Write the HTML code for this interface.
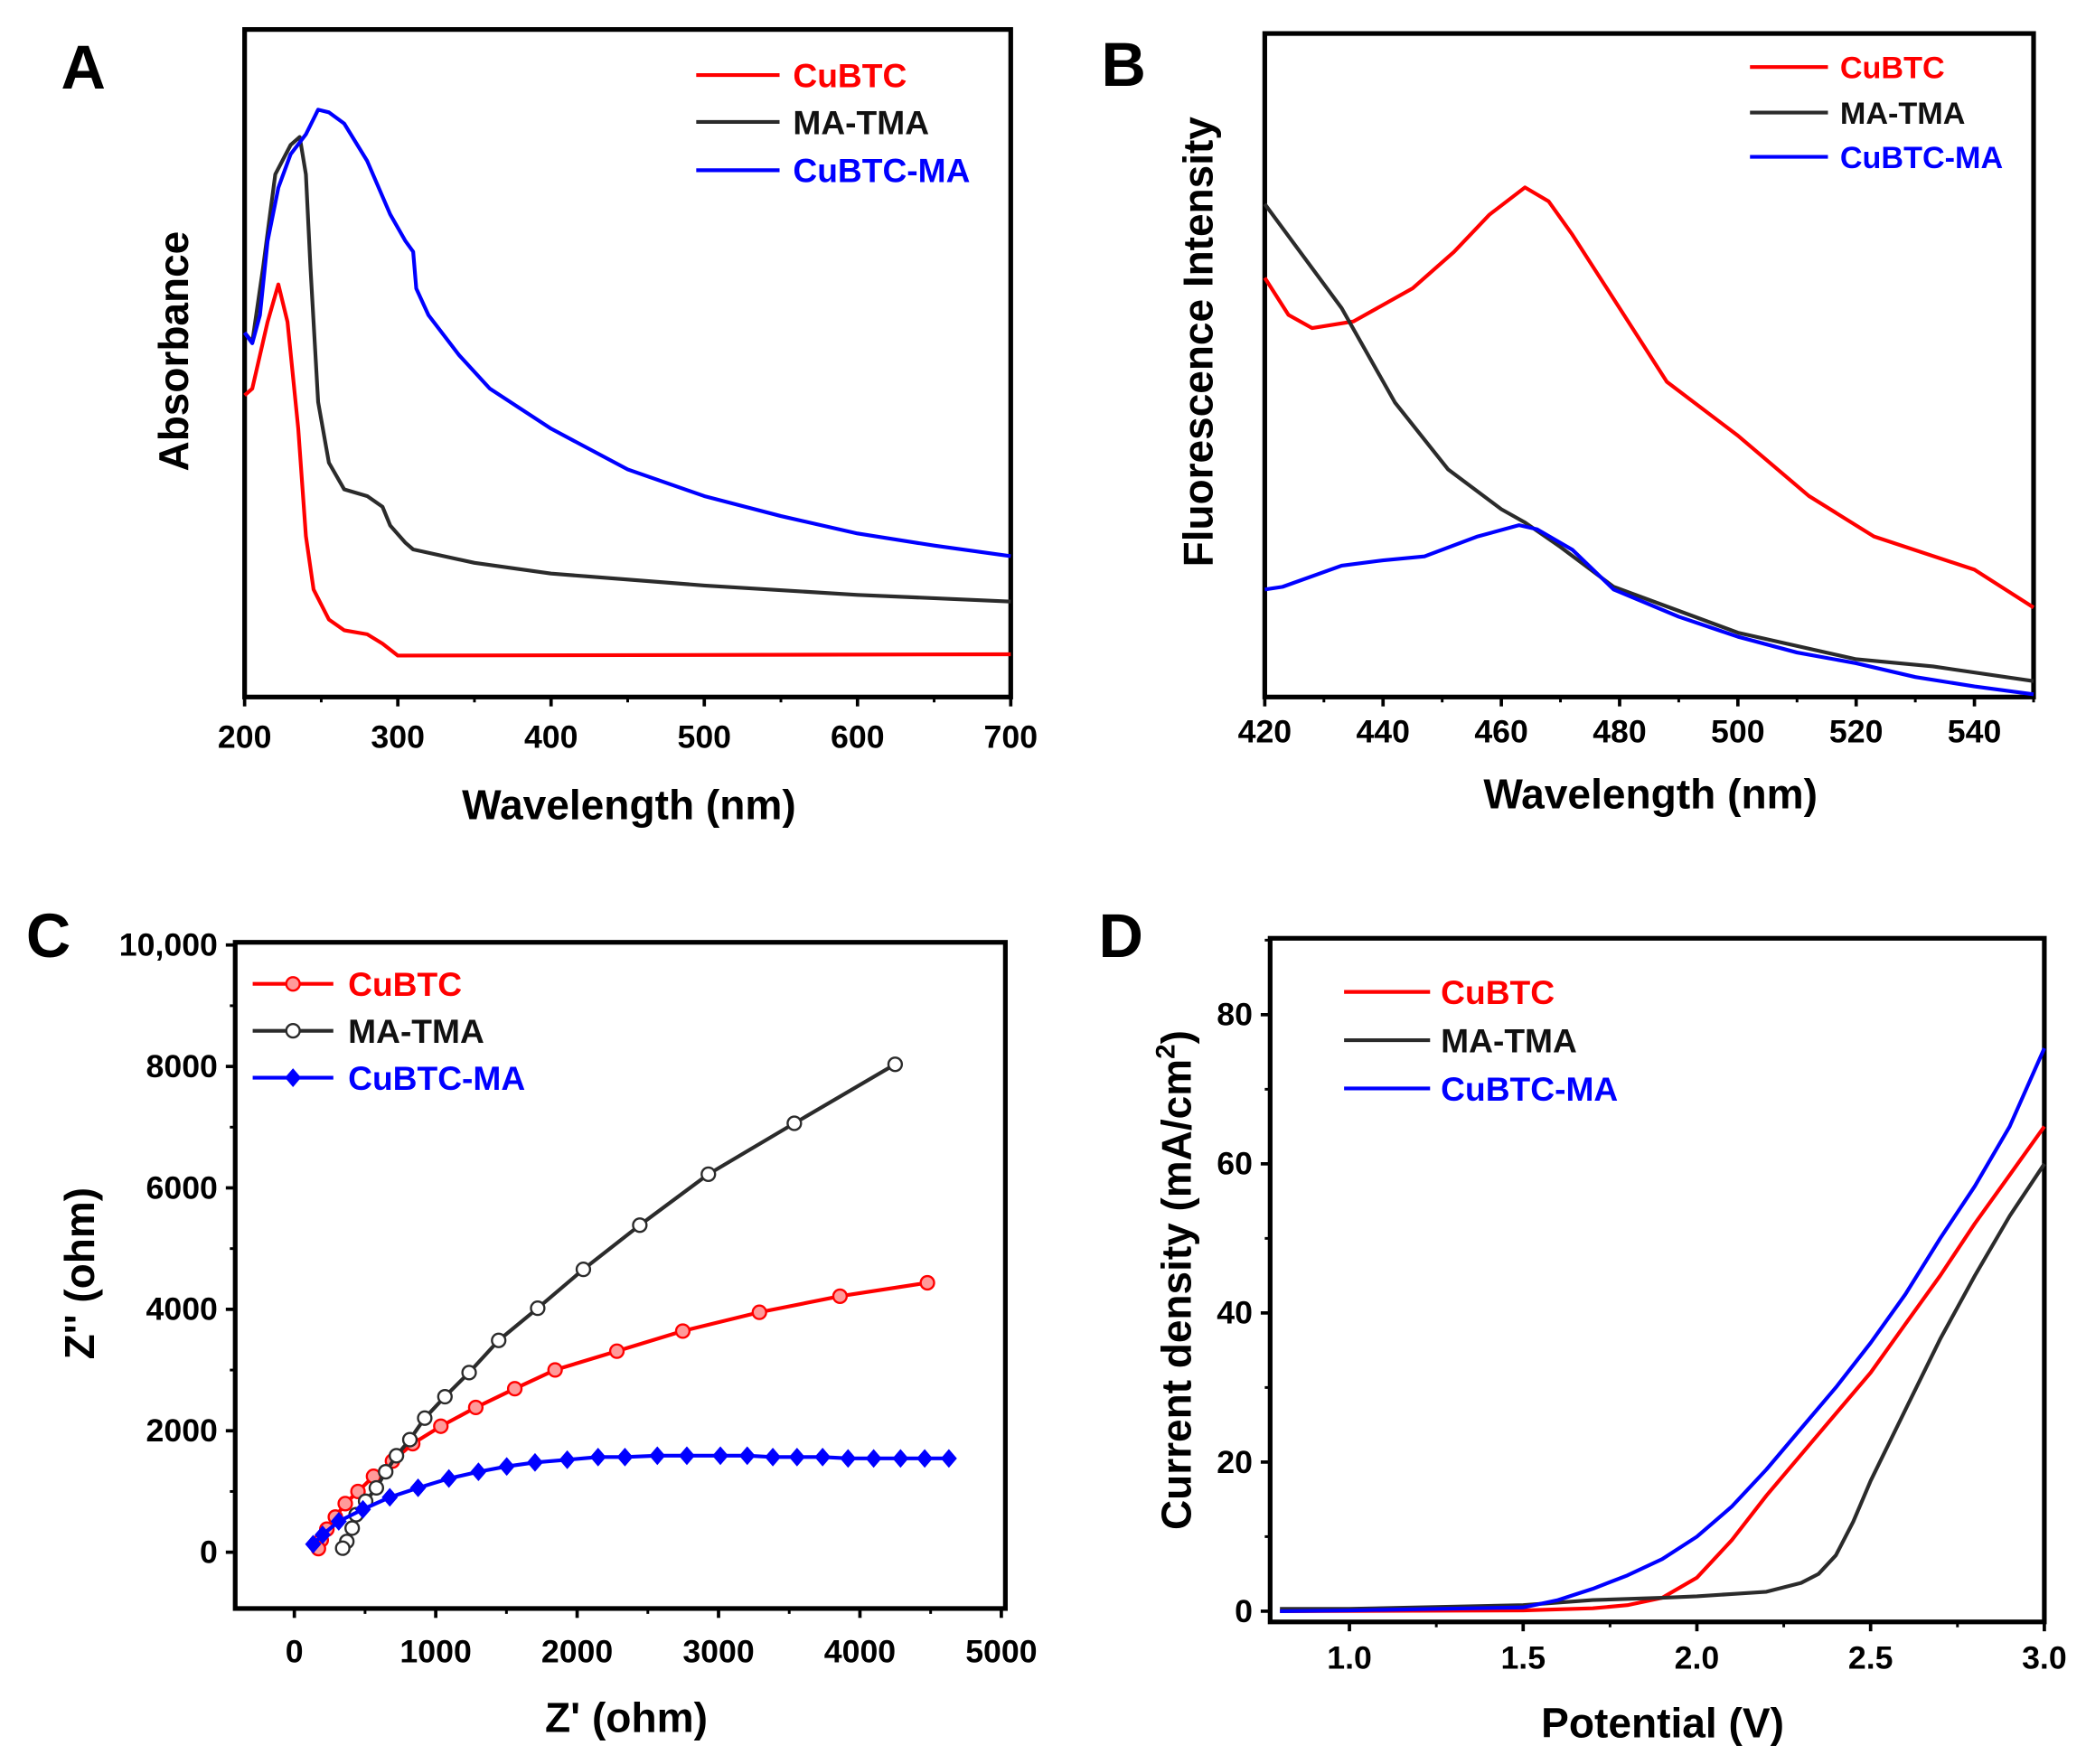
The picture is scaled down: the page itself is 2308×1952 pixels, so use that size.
<!DOCTYPE html>
<html><head><meta charset="utf-8"><style>
html,body{margin:0;padding:0;background:#fff;}
svg{display:block;font-family:"Liberation Sans",Arial,sans-serif;font-weight:bold;}
</style></head><body>
<svg id="fig" width="2308" height="1952" viewBox="0 0 1552 1316" preserveAspectRatio="none" xmlns="http://www.w3.org/2000/svg"></svg>
<script>
// ---- Panel A data (absorbance, a.u.) ----
const aRedX=[200,205,215,222,228,235,240,245,255,265,280,290,300,700];
const aRedY=[45.2,46.2,56.2,61.8,56.2,40.2,24.1,16.1,11.6,10.0,9.4,8.0,6.2,6.4];
const aBlkX=[200,205,212,220,230,236,240,243,248,255,265,280,290,295,305,310,350,400,500,600,700];
const aBlkY=[54.6,53.2,64.3,78.3,82.7,83.9,78.3,64.3,44.2,35.1,31.1,30.1,28.5,25.7,23.1,22.1,20.1,18.5,16.7,15.3,14.3];
const aBluX=[200,205,210,215,222,230,240,248,255,265,280,295,305,310,312,320,340,360,400,450,500,550,600,650,700];
const aBluY=[54.6,53.0,57.2,68.3,76.3,81.3,84.3,88.0,87.6,85.9,80.3,72.3,68.3,66.7,61.2,57.2,51.2,46.2,40.2,34.1,30.1,27.1,24.5,22.7,21.1];
const aTicks=[200,300,400,500,600,700];
// ---- Panel B data ----
const bRedX=[420,424,428,435,445,452,458,464,468,472,480,488,500,512,523,540,550];
const bRedY=[63.2,57.6,55.6,56.6,61.6,67.1,72.7,76.8,74.7,69.7,58.6,47.5,39.4,30.3,24.2,19.2,13.5];
const bBlkX=[420,433,442,451,460,464,470,479,500,520,533,550];
const bBlkY=[74.3,58.6,44.4,34.3,28.3,26.3,22.6,16.6,9.7,5.7,4.6,2.4];
const bBluX=[420,423,433,440,447,456,463,466,472,479,490,500,510,520,530,540,550];
const bBluY=[16.2,16.6,19.8,20.6,21.2,24.2,25.9,25.3,22.2,16.2,12.1,9.1,6.7,5.1,3.0,1.6,0.4];
const bTicks=[420,440,460,480,500,520,540];
// ---- Panel C data ----
const cRedX=[4477,3859,3289,2747,2281,1844,1559,1283,1036,837,694,560,450,360,290,230,190,170];
const cRedY=[4437,4216,3951,3642,3311,3002,2693,2384,2075,1788,1501,1250,1000,800,580,380,200,60];
const cBlkX=[4249,3536,2928,2443,2044,1721,1445,1236,1065,922,817,722,646,580,504,437,409,371,342];
const cBlkY=[8035,7064,6225,5386,4658,4018,3488,2958,2561,2208,1854,1589,1325,1060,839,618,397,177,66];
const cBluX=[4629,4458,4287,4097,3916,3736,3555,3384,3203,3013,2776,2567,2338,2148,1930,1702,1502,1302,1093,875,675,485,314,200,133];
const cBluY=[1545,1545,1545,1545,1545,1567,1567,1567,1589,1589,1589,1589,1567,1567,1523,1479,1413,1325,1214,1060,905,706,508,287,132];
const cXTicks=[0,1000,2000,3000,4000,5000];
const cYTicks=[0,2000,4000,6000,8000,10000];
const cYLabels=["0","2000","4000","6000","8000","10,000"];
// ---- Panel D data ----
const dRedX=[0.8,1.5,1.7,1.8,1.9,2.0,2.1,2.2,2.3,2.4,2.5,2.6,2.7,2.8,2.9,3.0];
const dRedY=[0,0.1,0.4,0.8,1.8,4.5,9.5,15.5,21,26.5,32,38.5,45,52,58.5,65];
const dBlkX=[0.8,1.0,1.5,1.7,1.9,2.0,2.1,2.2,2.3,2.35,2.4,2.45,2.5,2.6,2.7,2.8,2.9,3.0];
const dBlkY=[0.3,0.3,0.8,1.5,1.8,2.0,2.3,2.6,3.8,5,7.5,12,17.5,27,36.5,45,53,60];
const dBluX=[0.8,1.0,1.5,1.6,1.7,1.8,1.9,2.0,2.1,2.2,2.3,2.4,2.5,2.6,2.7,2.8,2.9,3.0];
const dBluY=[0,0.1,0.5,1.5,3,4.8,7,10,14,19,24.5,30,36,42.5,50,57,65,75.5];
const dXTicks=[1.0,1.5,2.0,2.5,3.0];
const dYTicks=[0,20,40,60,80];

const NS="http://www.w3.org/2000/svg";
const svg=document.getElementById('fig');
function mk(tag,attrs,parent,txt){const e=document.createElementNS(NS,tag);for(const k in attrs)e.setAttribute(k,attrs[k]);if(txt!==undefined)e.textContent=txt;(parent||svg).appendChild(e);return e;}
function lin(d0,d1,r0,r1){return v=>r0+(v-d0)*(r1-r0)/(d1-d0);}
const RED="#ff0000",BLK="#2b2b2b",BLU="#0000ff";
const TFS=24;

function panel(name,box){
  const g=mk('g',{});
  
  
  const r=mk('rect',{x:box[0],y:box[1],width:box[2]-box[0],height:box[3]-box[1],fill:'none',stroke:'#000','stroke-width':3.5},g);
  
  
  return g;
}
function series(g,name,X,Y,xs,ys,color){
  const p=mk('path',{d:X.map((x,i)=>(i?'L':'M')+xs(x).toFixed(1)+','+ys(Y[i]).toFixed(1)).join(''),fill:'none',stroke:color,'stroke-width':2.8,'stroke-linejoin':'round'},g);
  
  
  return p;
}
function xTicks(g,ticks,labels,xs,yb,minorStep,xmin,xmax,ly){
  ticks.forEach((t,i)=>{
    const x=xs(t);
    const l=mk('line',{x1:x,x2:x,y1:yb,y2:yb+7,stroke:'#000','stroke-width':2.5},g);
    
    
    const tx=mk('text',{x:x,y:ly,'text-anchor':'middle','font-size':TFS},g,labels[i]);
    
    
  });
  if(minorStep){for(let v=Math.ceil(xmin/minorStep)*minorStep;v<=xmax+1e-9;v+=minorStep){mk('line',{x1:xs(v),x2:xs(v),y1:yb,y2:yb+4,stroke:'#000','stroke-width':2},g);}}
}
function yTicks(g,ticks,labels,ys,xl,minorStep,ymin,ymax,lx){
  ticks.forEach((t,i)=>{
    const y=ys(t);
    const l=mk('line',{x1:xl-7,x2:xl,y1:y,y2:y,stroke:'#000','stroke-width':2.5},g);
    
    
    const tx=mk('text',{x:lx,y:y+8,'text-anchor':'end','font-size':TFS},g,labels[i]);
    
    
  });
  if(minorStep){for(let v=Math.ceil(ymin/minorStep)*minorStep;v<=ymax+1e-9;v+=minorStep){mk('line',{x1:xl-4,x2:xl,y1:ys(v),y2:ys(v),stroke:'#000','stroke-width':2},g);}}
}
function legend(g,x0,x1,tx,ys,fs,marker){
  const names=['CuBTC','MA-TMA','CuBTC-MA'],cols=[RED,BLK,BLU];
  ys.forEach((y,i)=>{
    const e=mk('g',{},g);
    
    
    mk('line',{x1:x0,x2:x1,y1:y,y2:y,stroke:cols[i],'stroke-width':2.8},e);
    if(marker)marker(e,(x0+x1)/2,y,i);
    mk('text',{x:tx,y:y+fs*0.36,'font-size':fs,fill:i==1?'#111':cols[i]},e,names[i]);
  });
}
function title(g,name,txt,x,y,rot,fs){
  const t=mk('text',{x:x,y:y,'text-anchor':'middle','font-size':fs||31,transform:rot?`rotate(-90 ${x} ${y})`:''},g,txt);
  
  
  return t;
}
function letter(txt,x,y){const t=mk('text',{x:x,y:y,'text-anchor':'middle','font-size':46},svg,txt);}

// Panel A
(function(){
  const box=[182,22,752,520];
  const xs=lin(200,700,182,752), ys=lin(0,100,520,22);
  const g=panel('panel-a-absorbance',box);
  xTicks(g,aTicks,aTicks.map(String),xs,520,50,200,700,558);
  series(g,'line-cubtc',aRedX,aRedY,xs,ys,RED);
  series(g,'line-ma-tma',aBlkX,aBlkY,xs,ys,BLK);
  series(g,'line-cubtc-ma',aBluX,aBluY,xs,ys,BLU);
  legend(g,518,580,590,[56,91,127],25);
  title(g,'x-axis-title','Wavelength (nm)',468,611);
  title(g,'y-axis-title','Absorbance',140,262,true);
  letter('A',62,66);
})();
// Panel B
(function(){
  const box=[941,25,1513,520];
  const xs=lin(420,550,941,1513), ys=lin(0,100,520,25);
  const g=panel('panel-b-fluorescence',box);
  xTicks(g,bTicks,bTicks.map(String),xs,520,10,420,550,554);
  series(g,'line-cubtc',bRedX,bRedY,xs,ys,RED);
  series(g,'line-ma-tma',bBlkX,bBlkY,xs,ys,BLK);
  series(g,'line-cubtc-ma',bBluX,bBluY,xs,ys,BLU);
  legend(g,1302,1360,1369,[50,84,117],23);
  title(g,'x-axis-title','Wavelength (nm)',1228,603);
  title(g,'y-axis-title','Fluorescence Intensity',902,255,true);
  letter('B',836,64);
})();
// Panel C
(function(){
  const box=[175,703,748,1200];
  const xs=lin(0,5000,219,745), ys=lin(0,10000,1158,705);
  const g=panel('panel-c-nyquist',box);
  xTicks(g,cXTicks,cXTicks.map(String),xs,1200,500,-400,5000,1240);
  yTicks(g,cYTicks,cYLabels,ys,175,1000,-900,10000,162);
  const circ=(p,x,y,c,f)=>mk('circle',{cx:x,cy:y,r:5,fill:f,stroke:c,'stroke-width':1.6},p);
  const diam=(p,x,y)=>mk('path',{d:`M${x},${y-7}L${x+6},${y}L${x},${y+7}L${x-6},${y}Z`,fill:BLU},p);
  series(g,'line-cubtc',cRedX,cRedY,xs,ys,RED);
  const gR=mk('g',{},g);
  cRedX.forEach((v,i)=>circ(gR,xs(v),ys(cRedY[i]),RED,'#ff9a9a'));
  series(g,'line-ma-tma',cBlkX,cBlkY,xs,ys,BLK);
  const gB=mk('g',{},g);
  cBlkX.forEach((v,i)=>circ(gB,xs(v),ys(cBlkY[i]),BLK,'#fff'));
  series(g,'line-cubtc-ma',cBluX,cBluY,xs,ys,BLU);
  const gU=mk('g',{},g);
  cBluX.forEach((v,i)=>diam(gU,xs(v),ys(cBluY[i])));
  legend(g,188,248,259,[734,769,804],25,(e,x,y,i)=>{if(i==0)circ(e,x,y,RED,'#ff9a9a');else if(i==1)circ(e,x,y,BLK,'#fff');else diam(e,x,y);});
  title(g,'x-axis-title',"Z' (ohm)",466,1292);
  title(g,'y-axis-title',"Z'' (ohm)",70,950,true);
  letter('C',36,714);
})();
// Panel D
(function(){
  const box=[945,700,1521,1210];
  const xs=lin(1.0,3.0,1004,1521), ys=lin(0,80,1202,757);
  const g=panel('panel-d-lsv',box);
  xTicks(g,dXTicks,dXTicks.map(v=>v.toFixed(1)),xs,1210,0.25,0.8,3.0,1245);
  yTicks(g,dYTicks,dYTicks.map(String),ys,945,10,0,90,932);
  series(g,'line-cubtc',dRedX,dRedY,xs,ys,RED);
  series(g,'line-ma-tma',dBlkX,dBlkY,xs,ys,BLK);
  series(g,'line-cubtc-ma',dBluX,dBluY,xs,ys,BLU);
  legend(g,1000,1064,1072,[740,776,812],25);
  title(g,'x-axis-title','Potential (V)',1237,1296);
  const t=mk('text',{x:886,y:955,'text-anchor':'middle','font-size':31,transform:'rotate(-90 886 955)'},g);
  
  
  t.innerHTML='Current density (mA/cm<tspan font-size="20" dy="-12">2</tspan><tspan dy="12">)</tspan>';
  letter('D',834,714);
})();
</script>
</body></html>
